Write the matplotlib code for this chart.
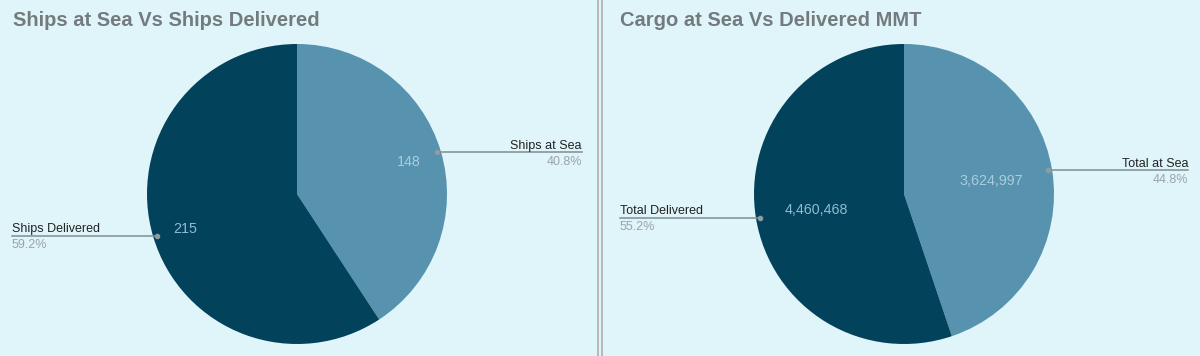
import numpy as np
import matplotlib.pyplot as plt

plt.rcParams['font.family'] = ['Liberation Sans', 'DejaVu Sans']

# data
titles = ["Ships at Sea Vs Ships Delivered", "Cargo at Sea Vs Delivered MMT"]
labels_1 = ["Ships at Sea", "Ships Delivered"]
values_1 = [148, 215]
labels_2 = ["Total at Sea", "Total Delivered"]
values_2 = [3624997, 4460468]

bg = '#dff5fa'
slice_colors = ['#5792ae', '#03425b']
value_colors = ['#a9cddd', '#8dbdd2']

W, H = 1200, 356
fig = plt.figure(figsize=(W / 100, H / 100), dpi=100)
fig.patch.set_facecolor(bg)

# overlay axes in pixel coordinates for titles, leader lines and separator
ov = fig.add_axes([0, 0, 1, 1])
ov.set_xlim(0, W)
ov.set_ylim(H, 0)
ov.axis('off')
ov.patch.set_alpha(0)
ov.set_zorder(10)
ov.axvline(598, color='#b4b4b4', lw=1.3)
ov.axvline(601.5, color='#b4b4b4', lw=1.3)


def draw_pie(cx, cy, r, values, labels, title, title_x, line_ends, vdist):
    ax = fig.add_axes([(cx - r) / W, (H - cy - r) / H, 2 * r / W, 2 * r / H])
    ax.pie(values, colors=slice_colors, startangle=90, counterclock=False,
           radius=1, wedgeprops=dict(linewidth=0))
    ax.set_xlim(-1, 1)
    ax.set_ylim(-1, 1)
    ax.set_aspect('auto')
    ax.patch.set_alpha(0)

    ov.text(title_x, 26, title, fontsize=14.5, fontweight='bold',
            color='#747b7e', va='baseline', ha='left')

    total = sum(values)
    start = 90.0
    for i, v in enumerate(values):
        frac = v / total
        mid = np.radians(start - frac * 180)
        start -= frac * 360
        ux, uy = np.cos(mid), np.sin(mid)
        # value label inside the slice
        ov.text(cx + vdist * r * ux, cy - vdist * r * uy, f"{v:,}",
                fontsize=10.3, color=value_colors[i], ha='center',
                va='center_baseline')
        # leader line
        px, py = cx + 0.975 * r * ux, cy - 0.975 * r * uy
        ex = line_ends[i]
        ov.plot([px, ex], [py, py], color='#7f8e93', lw=1.1)
        ov.plot([px], [py], 'o', color='#8c9ca1', ms=3)
        ha = 'right' if ex > cx else 'left'
        ov.text(ex, py - 3.5, labels[i], fontsize=9, color='#222222',
                ha=ha, va='baseline')
        ov.text(ex, py + 3.5, f"{frac * 100:.1f}%", fontsize=9,
                color='#9aa4a8', ha=ha, va='top')


draw_pie(297, 194, 150, values_1, labels_1, titles[0], 13, [582, 12], 0.78)
draw_pie(904, 194, 150, values_2, labels_2, titles[1], 620, [1188, 620], 0.59)

fig.savefig('out.png', dpi=100, facecolor=bg)
